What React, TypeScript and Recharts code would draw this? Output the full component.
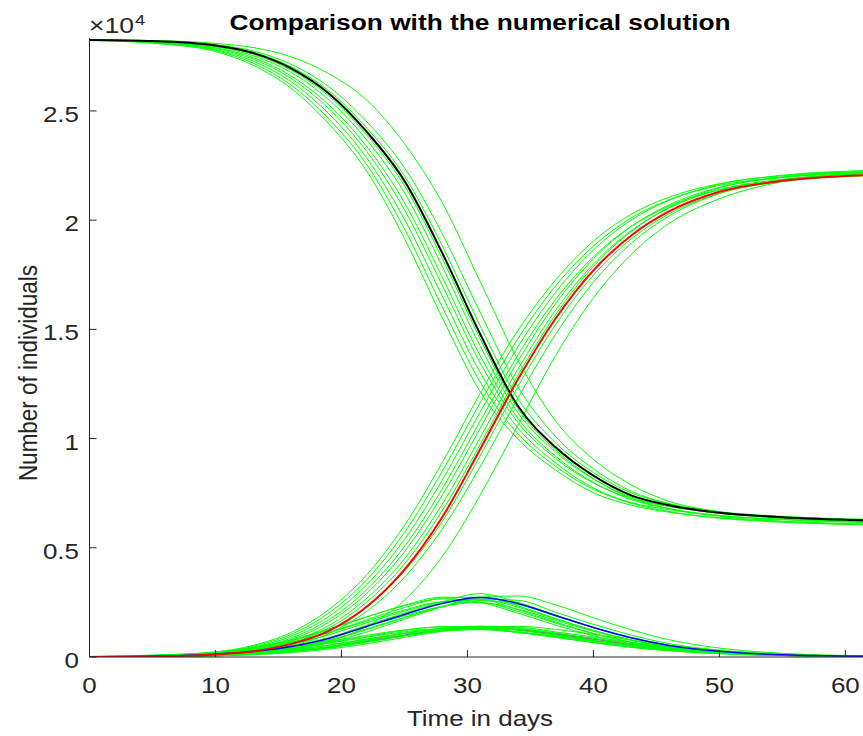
import React from 'react';
import { LineChart, Line, XAxis, YAxis } from 'recharts';

// sample days shared by every curve
const DAYS = [0, 5, 10, 13, 16, 19, 22, 25, 28, 31, 34, 37, 40, 43, 46, 50, 55, 62];

// numerical solution
const S_NUM = [28250, 28200, 28000, 27650, 26950, 25800, 24050, 21800, 18500, 14800, 11500, 9600, 8300, 7400, 6950, 6600, 6400, 6250];
const R_NUM = [0, 30, 120, 260, 600, 1200, 2300, 4000, 6400, 9500, 12700, 15500, 17700, 19300, 20400, 21300, 21800, 22070];
const I_NUM = [10, 40, 130, 250, 480, 850, 1400, 1950, 2450, 2720, 2450, 1900, 1350, 880, 530, 260, 100, 30];
const E_NUM = [0, 20, 70, 140, 260, 450, 720, 1000, 1230, 1330, 1250, 1050, 820, 580, 380, 200, 80, 25];

// stochastic runs (green)
const SIM_S = [
  [28230, 28100, 27720, 27090, 26030, 24400, 22250, 19160, 15540, 12160, 9980, 8560, 7520, 6950, 6630, 6370, 6205, 6080],
  [28240, 28120, 27770, 27180, 26180, 24630, 22550, 19600, 16030, 12600, 10230, 8730, 7680, 7070, 6740, 6480, 6310, 6190],
  [28245, 28135, 27810, 27280, 26340, 24870, 22850, 20040, 16530, 13040, 10490, 8880, 7740, 7040, 6660, 6356, 6170, 6045],
  [28248, 28150, 27860, 27370, 26490, 25100, 23150, 20480, 17020, 13480, 10740, 9090, 7965, 7260, 6890, 6600, 6420, 6300],
  [28250, 28165, 27895, 27440, 26605, 25275, 23375, 20810, 17390, 13810, 10930, 9190, 7990, 7200, 6790, 6475, 6285, 6150],
  [28250, 28180, 27940, 27535, 26760, 25510, 23675, 21250, 17885, 14250, 11185, 9385, 8150, 7325, 6905, 6580, 6390, 6250],
  [28250, 28190, 27975, 27600, 26870, 25680, 23900, 21580, 18250, 14580, 11370, 9480, 8170, 7260, 6800, 6440, 6220, 6070],
  [28250, 28203, 28012, 27685, 27020, 25915, 24225, 22025, 18830, 15170, 11830, 9800, 8445, 7510, 7020, 6650, 6440, 6280],
  [28250, 28210, 28030, 27745, 27135, 26105, 24515, 22400, 19380, 15790, 12380, 10090, 8615, 7590, 7010, 6600, 6360, 6180],
  [28250, 28225, 28090, 27900, 27480, 26700, 25500, 23500, 20800, 17200, 13600, 10800, 9050, 7880, 7130, 6650, 6360, 6160],
];
const SIM_R = [
  [14, 73, 232, 532, 1120, 2170, 3760, 6020, 8900, 12060, 14940, 17260, 19040, 20270, 21050, 21670, 22035, 22230],
  [10, 66, 213, 487, 1033, 2017, 3533, 5700, 8500, 11633, 14567, 16990, 18810, 20100, 20930, 21590, 21965, 22180],
  [8, 59, 195, 442, 947, 1863, 3307, 5380, 8100, 11207, 14193, 16700, 18633, 20007, 20910, 21640, 22057, 22275],
  [6, 52, 176, 396, 860, 1710, 3080, 5060, 7700, 10780, 13820, 16370, 18320, 19715, 20640, 21390, 21820, 22040],
  [5, 46, 162, 362, 795, 1595, 2910, 4820, 7400, 10460, 13540, 16180, 18230, 19710, 20700, 21500, 21950, 22190],
  [3, 39, 143, 316, 708, 1441, 2683, 4500, 7000, 10033, 13167, 15875, 17990, 19520, 20555, 21395, 21870, 22120],
  [1, 34, 129, 283, 643, 1327, 2513, 4260, 6700, 9713, 12887, 15670, 17880, 19480, 20580, 21480, 21980, 22250],
  [0, 25, 106, 246, 566, 1185, 2285, 3930, 6200, 9200, 12380, 15220, 17480, 19140, 20290, 21230, 21770, 22060],
  [0, 20, 86, 223, 509, 1077, 2093, 3647, 5860, 8700, 11847, 14775, 17153, 18940, 20190, 21220, 21840, 22150],
  [0, 10, 50, 150, 330, 700, 1400, 2600, 4600, 7400, 10600, 13800, 16440, 18430, 19850, 20980, 21765, 22170],
];
const SIM_I = [
  [25, 85, 226, 434, 776, 1290, 1840, 2350, 2666, 2504, 2010, 1460, 974, 600, 368, 183, 76, 20],
  [22, 70, 210, 410, 740, 1250, 1830, 2370, 2740, 2650, 2170, 1600, 1080, 670, 405, 200, 80, 25],
  [18, 60, 190, 365, 660, 1110, 1640, 2150, 2520, 2500, 2090, 1560, 1070, 675, 410, 205, 83, 27],
  [17, 58, 187, 360, 660, 1125, 1700, 2260, 2690, 2740, 2340, 1765, 1220, 780, 470, 233, 95, 31],
  [15, 56, 166, 320, 590, 1015, 1565, 2100, 2530, 2640, 2285, 1735, 1210, 775, 470, 231, 94, 30],
  [11, 46, 140, 268, 504, 876, 1388, 1890, 2320, 2490, 2190, 1680, 1180, 765, 460, 227, 92, 28],
  [10, 42, 138, 265, 505, 890, 1450, 2010, 2530, 2900, 2500, 1920, 1340, 870, 520, 255, 98, 30],
  [10, 36, 119, 228, 439, 780, 1291, 1819, 2304, 2585, 2405, 1877, 1349, 890, 542, 269, 106, 29],
  [8, 35, 116, 218, 419, 751, 1253, 1803, 2317, 2648, 2598, 2047, 1497, 1005, 612, 314, 122, 32],
  [6, 32, 105, 190, 366, 672, 1145, 1733, 2300, 2737, 2795, 2386, 1797, 1243, 792, 408, 169, 51],
];
const SIM_E = [
  [10, 46, 132, 248, 433, 699, 991, 1243, 1376, 1329, 1145, 909, 659, 441, 286, 149, 67, 21],
  [8, 40, 117, 220, 387, 630, 907, 1153, 1297, 1277, 1117, 897, 660, 447, 290, 152, 70, 22],
  [7, 39, 116, 220, 390, 642, 939, 1213, 1386, 1390, 1234, 1001, 747, 511, 333, 175, 78, 26],
  [5, 31, 95, 182, 326, 541, 807, 1059, 1232, 1259, 1135, 929, 702, 485, 316, 166, 75, 24],
  [4, 30, 94, 181, 327, 547, 828, 1101, 1298, 1345, 1226, 1010, 770, 536, 350, 183, 81, 26],
  [2, 24, 78, 152, 277, 470, 729, 986, 1185, 1251, 1156, 961, 741, 520, 340, 179, 72, 24],
  [1, 22, 76, 152, 280, 486, 772, 1075, 1310, 1413, 1320, 1100, 855, 600, 390, 205, 84, 26],
  [0, 19, 67, 133, 248, 431, 693, 972, 1207, 1320, 1277, 1070, 843, 604, 400, 214, 85, 25],
  [0, 17, 64, 126, 237, 415, 674, 962, 1216, 1355, 1355, 1147, 916, 670, 450, 245, 94, 27],
  [0, 14, 56, 106, 203, 363, 603, 899, 1179, 1372, 1402, 1264, 1035, 782, 540, 303, 133, 38],
];

const X_TICKS = [0, 10, 20, 30, 40, 50, 60];
const Y_TICKS = [0, 5000, 10000, 15000, 20000, 25000];

const W = 863;
const H = 736;
const PLOT_LEFT = 89.5;
const PLOT_TOP = 38;
const PLOT_BOTTOM = 657;
const AXIS_COLOR = '#262626';
const FONT = '"Liberation Sans", Arial, Helvetica, sans-serif';
const STRETCH = 1.18;

const data = DAYS.map((t, i) => {
  const row: Record<string, number> = { t, S: S_NUM[i], R: R_NUM[i], I: I_NUM[i], E: E_NUM[i] };
  SIM_S.forEach((run, k) => { row[`s${k}`] = run[i]; });
  SIM_R.forEach((run, k) => { row[`r${k}`] = run[i]; });
  SIM_I.forEach((run, k) => { row[`i${k}`] = run[i]; });
  SIM_E.forEach((run, k) => { row[`e${k}`] = run[i]; });
  return row;
});

const greenKeys = [
  ...SIM_E.map((_, k) => `e${k}`),
  ...SIM_I.map((_, k) => `i${k}`),
  ...SIM_R.map((_, k) => `r${k}`),
  ...SIM_S.map((_, k) => `s${k}`),
];

function YTick(props: any) {
  const { y, payload } = props;
  const v = payload.value as number;
  const label = v === 0 ? '0' : String(v / 10000);
  return (
    <g>
      <line x1={PLOT_LEFT} x2={PLOT_LEFT + 7} y1={y} y2={y} stroke={AXIS_COLOR} strokeWidth={1} />
      <text
        transform={`translate(79,${y + 11}) scale(${STRETCH},1)`}
        textAnchor="end"
        fontSize={22}
        fill={AXIS_COLOR}
        fontFamily={FONT}
      >
        {label}
      </text>
    </g>
  );
}

function XTick(props: any) {
  const { x, payload } = props;
  return (
    <g>
      <line x1={x} x2={x} y1={PLOT_BOTTOM} y2={PLOT_BOTTOM - 7} stroke={AXIS_COLOR} strokeWidth={1} />
      <text
        transform={`translate(${x},693) scale(${STRETCH},1)`}
        textAnchor="middle"
        fontSize={22}
        fill={AXIS_COLOR}
        fontFamily={FONT}
      >
        {payload.value}
      </text>
    </g>
  );
}

export default function App() {
  return (
    <div style={{ position: 'absolute', left: 0, top: 0, width: W, height: H, background: '#fff' }}>
      <LineChart
        width={W}
        height={H}
        data={data}
        margin={{ top: PLOT_TOP, right: 0, bottom: 0, left: 0 }}
      >
        <XAxis
          dataKey="t"
          type="number"
          domain={[0, 61.4]}
          allowDataOverflow
          ticks={X_TICKS}
          tick={<XTick />}
          tickLine={false}
          axisLine={{ stroke: AXIS_COLOR }}
          height={H - PLOT_BOTTOM}
        />
        <YAxis
          type="number"
          domain={[0, 28340]}
          allowDataOverflow
          ticks={Y_TICKS}
          tick={<YTick />}
          tickLine={false}
          axisLine={{ stroke: AXIS_COLOR }}
          width={PLOT_LEFT}
        />
        <Line dataKey="E" type="monotone" stroke="#ff00ff" strokeWidth={1.5} dot={false} isAnimationActive={false} />
        {greenKeys.map((k) => (
          <Line
            key={k}
            dataKey={k}
            type="monotone"
            stroke="#00ff00"
            strokeWidth={1}
            dot={false}
            isAnimationActive={false}
          />
        ))}
        <Line dataKey="I" type="monotone" stroke="#0000ff" strokeWidth={1.5} dot={false} isAnimationActive={false} />
        <Line dataKey="S" type="monotone" stroke="#000000" strokeWidth={2} dot={false} isAnimationActive={false} />
        <Line dataKey="R" type="monotone" stroke="#ff0000" strokeWidth={2} dot={false} isAnimationActive={false} />
      </LineChart>
      <svg
        width={W}
        height={H}
        style={{ position: 'absolute', left: 0, top: 0, pointerEvents: 'none' }}
        fontFamily={FONT}
      >
        <text
          transform={`translate(480,30) scale(${STRETCH},1)`}
          textAnchor="middle"
          fontSize={22.3}
          fontWeight="bold"
          fill="#000"
        >
          Comparison with the numerical solution
        </text>
        <text transform={`translate(89,33) scale(${STRETCH},1)`} fontSize={22.5} fill={AXIS_COLOR}>
          ×10
        </text>
        <text transform={`translate(135,25) scale(${STRETCH},1)`} fontSize={15.5} fill={AXIS_COLOR}>
          4
        </text>
        <text
          transform={`translate(480,726) scale(${STRETCH},1)`}
          textAnchor="middle"
          fontSize={22}
          fill={AXIS_COLOR}
        >
          Time in days
        </text>
        <text
          transform={`translate(37,373) rotate(-90) scale(1,${STRETCH})`}
          textAnchor="middle"
          fontSize={22.5}
          fill={AXIS_COLOR}
        >
          Number of individuals
        </text>
      </svg>
    </div>
  );
}
